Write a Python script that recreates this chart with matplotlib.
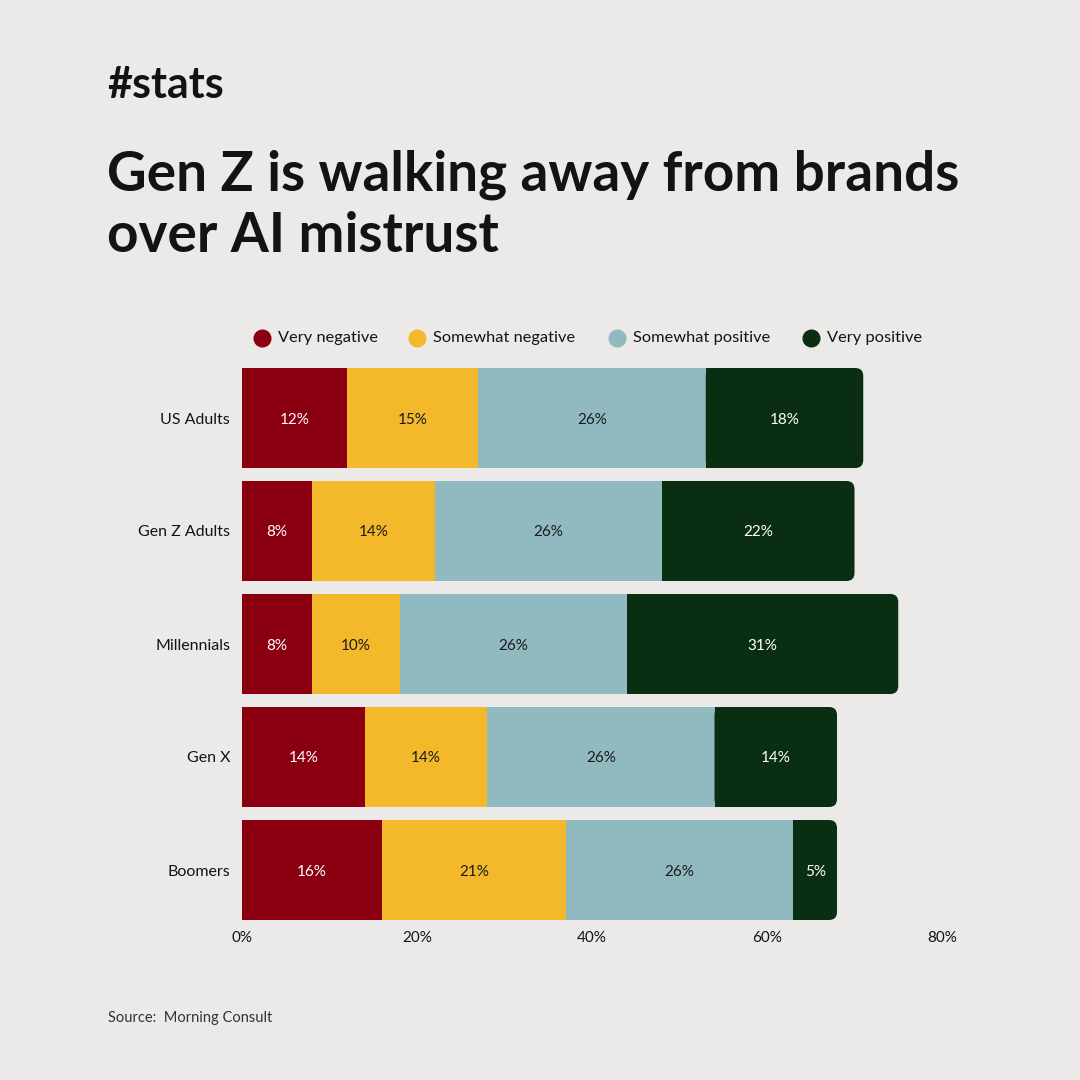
import matplotlib
matplotlib.use("Agg")
import matplotlib.pyplot as plt
from matplotlib.patches import FancyBboxPatch, Rectangle
from matplotlib.lines import Line2D

categories = ["US Adults", "Gen Z Adults", "Millennials", "Gen X", "Boomers"]
series_names = ["Very negative", "Somewhat negative", "Somewhat positive", "Very positive"]
very_negative = [12, 8, 8, 14, 16]
somewhat_negative = [15, 14, 10, 14, 21]
somewhat_positive = [26, 26, 26, 26, 26]
very_positive = [18, 22, 31, 14, 5]
x_ticks = [0, 20, 40, 60, 80]
x_tick_labels = ["0%", "20%", "40%", "60%", "80%"]

colors = ["#8B0010", "#F3B92B", "#91BAC0", "#0A2E11"]
label_colors = ["white", "#1a1a1a", "#1a1a1a", "white"]
BG = "#ECEAE8"
TXT = "#111417"
FONT = "Lato"

plt.rcParams["font.family"] = [FONT, "DejaVu Sans"]

fig = plt.figure(figsize=(10.8, 10.8), dpi=100, facecolor=BG)
ax = fig.add_axes([242/1080, 1-920/1080, 700/1080, 552/1080])
ax.set_facecolor(BG)

series = [very_negative, somewhat_negative, somewhat_positive, very_positive]
bar_h = 100/113
ax.set_xlim(0, 80)
ax.set_ylim(len(categories) - 1 + bar_h/2, -bar_h/2)

# pixel -> data scales
xpp = 80/700.0
ypp = (len(categories) - 1 + bar_h) / 552.0
radius_px = 8

for i, cat in enumerate(categories):
    left = 0
    for s, vals in enumerate(series):
        v = vals[i]
        if s < len(series) - 1:
            ax.barh(i, v, left=left, height=bar_h, color=colors[s], linewidth=0)
        else:
            r = radius_px * xpp
            box = FancyBboxPatch((left, i - bar_h/2), v, bar_h,
                                 boxstyle=f"round,pad=0,rounding_size={r}",
                                 mutation_aspect=ypp/xpp,
                                 facecolor=colors[s], edgecolor="none")
            ax.add_patch(box)
            ax.add_patch(Rectangle((left, i - bar_h/2), max(v - r*1.05, 0), bar_h,
                                   facecolor=colors[s], edgecolor="none"))
        ax.text(left + v/2, i, f"{v}%", ha="center", va="center_baseline",
                fontsize=11, color=label_colors[s])
        left += v

ax.set_yticks(range(len(categories)))
ax.set_yticklabels(categories, fontsize=11.5, color=TXT)
ax.set_xticks(x_ticks)
ax.set_xticklabels(x_tick_labels, fontsize=11, color=TXT)
ax.tick_params(axis="both", length=0)
ax.tick_params(axis="y", pad=8.5)
ax.tick_params(axis="x", pad=8)
for sp in ax.spines.values():
    sp.set_visible(False)

# Legend
leg_x = [262, 417, 617, 811]
for k, name in enumerate(series_names):
    fig.add_artist(Line2D([leg_x[k]/1080], [1-338/1080], marker="o", markersize=12,
                          color=colors[k], linestyle="none", transform=fig.transFigure))
    fig.text((leg_x[k] + 16)/1080, 1-338/1080, name, fontsize=11.8, color=TXT,
             ha="left", va="center")

# Titles
fig.text(107/1080, 1-98/1080, "#stats", fontsize=31, fontweight="bold", color=TXT,
         ha="left", va="baseline")
fig.text(107/1080, 1-190/1080, "Gen Z is walking away from brands", fontsize=39.5,
         fontweight="bold", color=TXT, ha="left", va="baseline")
fig.text(107/1080, 1-252/1080, "over AI mistrust", fontsize=39.5,
         fontweight="bold", color=TXT, ha="left", va="baseline")

fig.text(108/1080, 1-1018/1080, "Source:  Morning Consult", fontsize=10.5, color="#333333",
         ha="left", va="center")

fig.savefig("out.png", dpi=100, facecolor=BG)
